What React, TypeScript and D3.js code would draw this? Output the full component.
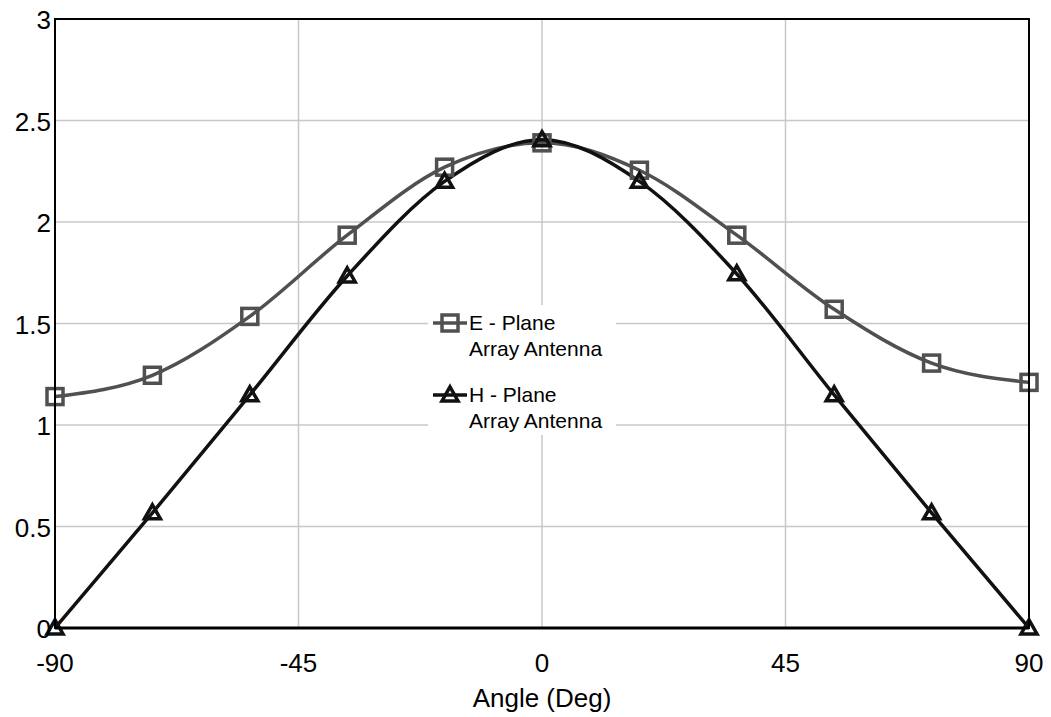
import React from "react";
import * as d3 from "d3";

const angles = [-90, -72, -54, -36, -18, 0, 18, 36, 54, 72, 90];
const eValues = [1.14, 1.245, 1.535, 1.935, 2.27, 2.39, 2.255, 1.935, 1.57, 1.305, 1.21];
const hValues = [0.0, 0.567, 1.148, 1.734, 2.2, 2.405, 2.2, 1.744, 1.148, 0.567, 0.0];
const xTicks = [-90, -45, 0, 45, 90];
const yTicks = [0, 0.5, 1, 1.5, 2, 2.5, 3];
const xLabel = "Angle (Deg)";
const legendItems = [
  { name: "E - Plane", sub: "Array Antenna", marker: "square" },
  { name: "H - Plane", sub: "Array Antenna", marker: "triangle" },
];

const W = 1051;
const H = 717;
const margin = { left: 55, right: 22, top: 19, bottom: 89 };
const FONT = "'Liberation Sans', Arial, Helvetica, sans-serif";
const E_COLOR = "#505050";
const H_COLOR = "#111111";

function Square({ cx, cy, color }: { cx: number; cy: number; color: string }) {
  const s = 16;
  return <rect x={cx - s / 2} y={cy - s / 2} width={s} height={s} fill="none" stroke={color} strokeWidth={3.5} />;
}
function Triangle({ cx, cy, color }: { cx: number; cy: number; color: string }) {
  const w = 16;
  const h = 14;
  const p = `M${cx},${cy - h * 0.58} L${cx + w / 2},${cy + h * 0.42} L${cx - w / 2},${cy + h * 0.42} Z`;
  return <path d={p} fill="none" stroke={color} strokeWidth={3.5} strokeLinejoin="miter" />;
}

export default function App() {
  const x = d3.scaleLinear().domain([-90, 90]).range([margin.left, W - margin.right]);
  const y = d3.scaleLinear().domain([0, 3]).range([H - margin.bottom, margin.top]);
  const line = d3
    .line<number>()
    .x((_, i) => x(angles[i]))
    .y((d) => y(d))
    .curve(d3.curveMonotoneX);

  const x0 = x(-90), x1 = x(90), y0 = y(0), y1 = y(3);

  return (
    <svg width={W} height={H} style={{ position: "absolute", left: 0, top: 0, background: "#fff" }} fontFamily={FONT}>
      <rect x={0} y={0} width={W} height={H} fill="#fff" />
      {/* grid */}
      {xTicks.slice(1, -1).map((t) => (
        <line key={"gx" + t} x1={x(t)} x2={x(t)} y1={y0} y2={y1} stroke="#c8c8c8" strokeWidth={1.5} />
      ))}
      {yTicks.slice(1, -1).map((t) => (
        <line key={"gy" + t} x1={x0} x2={x1} y1={y(t)} y2={y(t)} stroke="#c8c8c8" strokeWidth={1.5} />
      ))}
      {/* legend background */}
      <rect x={428} y={305} width={188} height={130} fill="#fff" />
      {/* series */}
      <path d={line(eValues) || ""} fill="none" stroke={E_COLOR} strokeWidth={3.5} />
      <path d={line(hValues) || ""} fill="none" stroke={H_COLOR} strokeWidth={3.5} />
      {eValues.map((v, i) => (
        <Square key={"e" + i} cx={x(angles[i])} cy={y(v)} color={E_COLOR} />
      ))}
      {hValues.map((v, i) => (
        <Triangle key={"h" + i} cx={x(angles[i])} cy={y(v)} color={H_COLOR} />
      ))}
      {/* frame */}
      <rect x={x0} y={y1} width={x1 - x0} height={y0 - y1} fill="none" stroke="#000" strokeWidth={2} />
      <line x1={x0} x2={x1} y1={y0} y2={y0} stroke="#000" strokeWidth={3} />
      {/* y tick labels */}
      {yTicks.map((t) => (
        <text key={"yl" + t} x={x0 - 4} y={y(t) + 10} textAnchor="end" fontSize={26} fill="#000">
          {String(t)}
        </text>
      ))}
      {/* x tick labels */}
      {xTicks.map((t) => (
        <text key={"xl" + t} x={x(t)} y={y0 + 44} textAnchor="middle" fontSize={26} fill="#000">
          {String(t)}
        </text>
      ))}
      <text x={x(0)} y={y0 + 79} textAnchor="middle" fontSize={26} fill="#000">
        {xLabel}
      </text>
      {/* legend */}
      {legendItems.map((it, i) => {
        const ly = 323 + i * 72;
        return (
          <g key={"lg" + i}>
            <line x1={433} x2={467} y1={ly} y2={ly} stroke={i === 0 ? E_COLOR : H_COLOR} strokeWidth={3.5} />
            {it.marker === "square" ? (
              <Square cx={450} cy={ly} color={E_COLOR} />
            ) : (
              <Triangle cx={450} cy={ly} color={H_COLOR} />
            )}
            <text x={469} y={ly + 7} fontSize={21} fill="#000">
              {it.name}
            </text>
            <text x={469} y={ly + 33} fontSize={21} fill="#000">
              {it.sub}
            </text>
          </g>
        );
      })}
    </svg>
  );
}
